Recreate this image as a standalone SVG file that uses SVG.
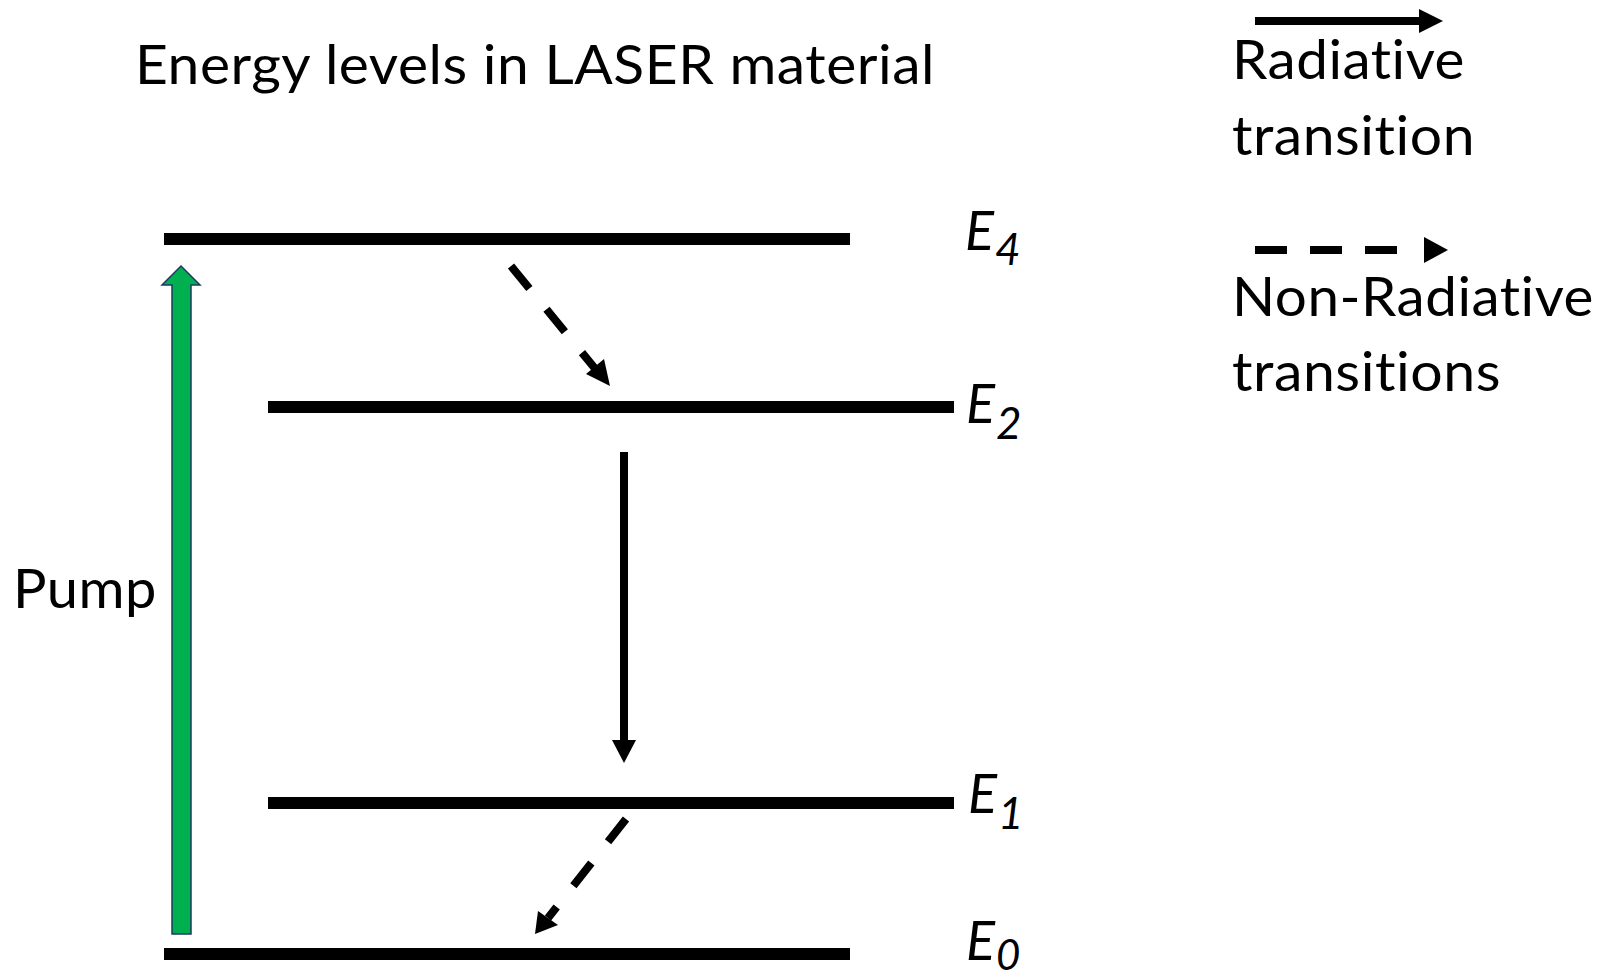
<svg xmlns="http://www.w3.org/2000/svg" width="1616" height="980" viewBox="0 0 1616 980">
<style>
.txt{font-family:Lato,"Open Sans","Liberation Sans",sans-serif;font-size:54px;fill:#000;letter-spacing:0.5px;font-variant-ligatures:none;font-feature-settings:"liga" 0,"clig" 0,"dlig" 0}
.lbl{font-family:Lato,"Open Sans","Liberation Sans",sans-serif;font-style:italic;fill:#000}
.lvl{stroke:#000;stroke-width:12;fill:none}
.ln{stroke:#000;stroke-width:8;fill:none}
.dash{stroke:#000;stroke-width:8;fill:none;stroke-dasharray:29 27}
.head{fill:#000;stroke:none}
</style>
<rect width="1616" height="980" fill="#fff"/>
<g id="title"><text class="txt" x="135" y="84" textLength="800" lengthAdjust="spacingAndGlyphs">Energy levels in LASER material</text></g>
<g id="level-E4"><line class="lvl" x1="164" y1="239" x2="850" y2="239"/><text class="lbl" x="965" y="250" font-size="54">E</text><text class="lbl" x="995" y="265" font-size="44">4</text></g>
<g id="level-E2"><line class="lvl" x1="268" y1="407" x2="954" y2="407"/><text class="lbl" x="966" y="423" font-size="54">E</text><text class="lbl" x="996" y="439" font-size="44">2</text></g>
<g id="level-E1"><line class="lvl" x1="268" y1="803" x2="954" y2="803"/><text class="lbl" x="968" y="813" font-size="54">E</text><text class="lbl" x="998" y="829" font-size="44">1</text></g>
<g id="level-E0"><line class="lvl" x1="164" y1="954" x2="850" y2="954"/><text class="lbl" x="966" y="960" font-size="54">E</text><text class="lbl" x="996" y="970" font-size="42">0</text></g>
<g id="pump"><polygon points="172,934 191,934 191,285 200,285 181,266 162,285 172,285" fill="#00B050" stroke="#203864" stroke-width="1.5"/><text class="txt" x="13" y="608" textLength="144" lengthAdjust="spacingAndGlyphs">Pump</text></g>
<g id="connectors">
<line class="dash" x1="511" y1="266" x2="597" y2="371"/>
<polygon class="head" points="610,386 586,374 604,359"/>
<line class="ln" x1="624" y1="452" x2="624" y2="742"/>
<polygon class="head" points="612,740 636,740 624,763"/>
<line class="dash" x1="626" y1="819" x2="548" y2="918"/>
<polygon class="head" points="535,934 538,911 558,925"/>
</g>
<g id="legend">
<line class="ln" x1="1255" y1="21" x2="1421" y2="21"/>
<polygon class="head" points="1419,9 1443,21 1419,33"/>
<text class="txt" x="1232" y="79" textLength="233" lengthAdjust="spacingAndGlyphs">Radiative</text>
<text class="txt" x="1232" y="155" textLength="243" lengthAdjust="spacingAndGlyphs">transition</text>
<line class="ln" x1="1255" y1="250" x2="1398" y2="250" style="stroke-dasharray:32 23"/>
<polygon class="head" points="1424,237 1448,250 1424,263"/>
<text class="txt" x="1232" y="316" textLength="362" lengthAdjust="spacingAndGlyphs">Non-Radiative</text>
<text class="txt" x="1232" y="391" textLength="269" lengthAdjust="spacingAndGlyphs">transitions</text>
</g>
</svg>
